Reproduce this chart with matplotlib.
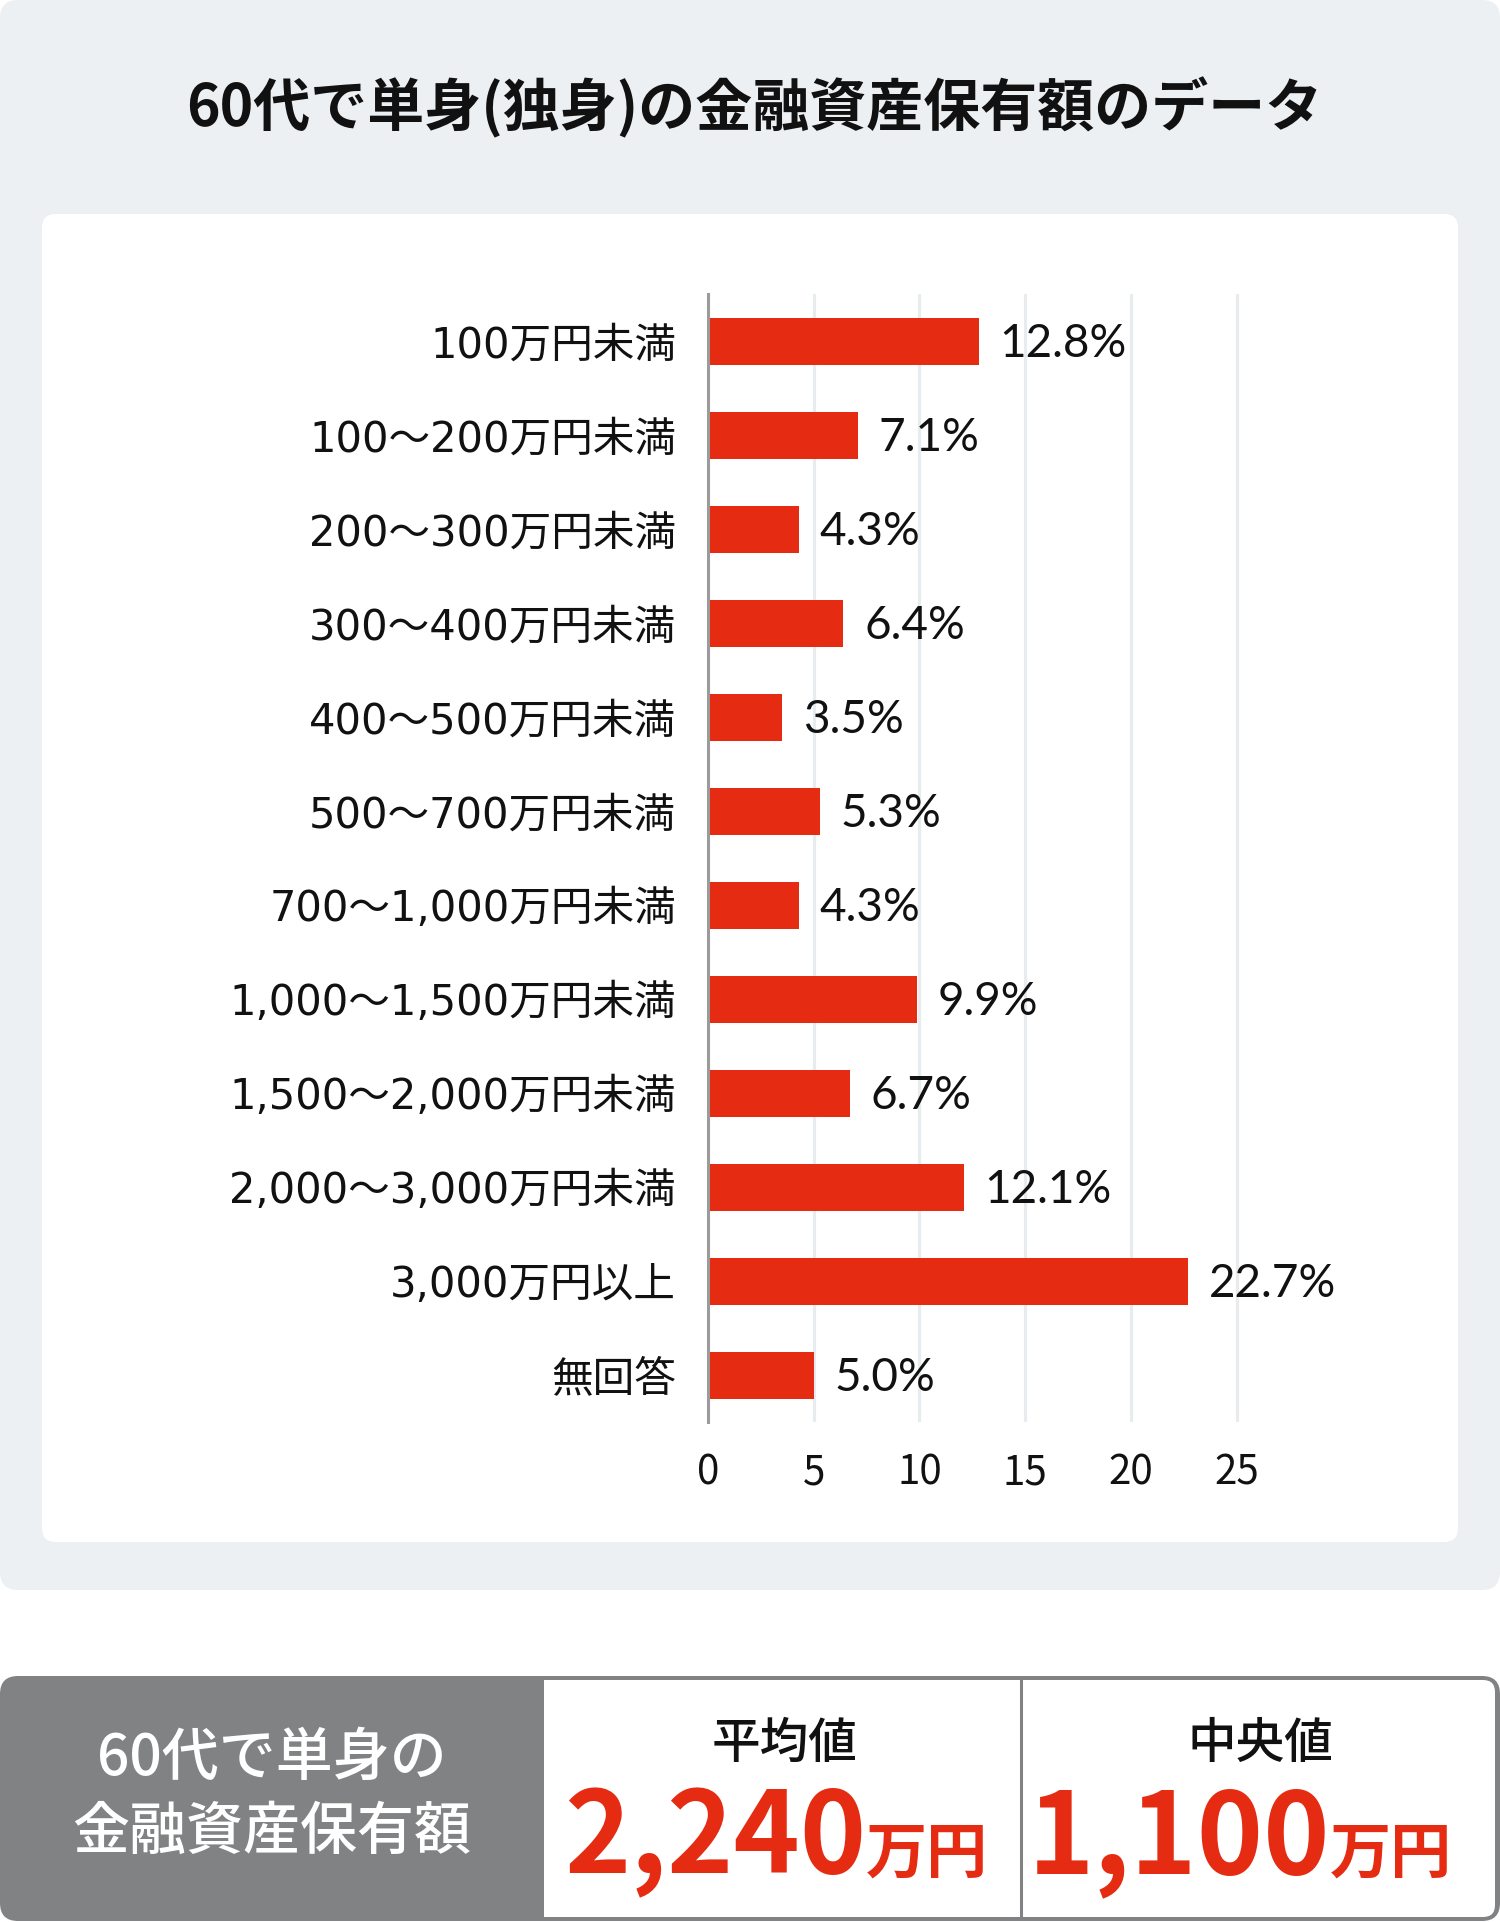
import matplotlib
matplotlib.use("Agg")
import matplotlib.pyplot as plt
from matplotlib.patches import FancyBboxPatch, Rectangle

plt.rcParams['font.family'] = ['Noto Sans CJK JP', 'DejaVu Sans']

# data
title = "60代で単身(独身)の金融資産保有額のデータ"
categories = ["100万円未満", "100～200万円未満", "200～300万円未満", "300～400万円未満",
              "400～500万円未満", "500～700万円未満", "700～1,000万円未満",
              "1,000～1,500万円未満", "1,500～2,000万円未満", "2,000～3,000万円未満",
              "3,000万円以上", "無回答"]
values = [12.8, 7.1, 4.3, 6.4, 3.5, 5.3, 4.3, 9.9, 6.7, 12.1, 22.7, 5.0]
xticks = [0, 5, 10, 15, 20, 25]

summary_head = ["60代で単身の", "金融資産保有額"]
summary_labels = ["平均値", "中央値"]
summary_values = ["2,240", "1,100"]
unit = "万円"

RED = "#e52b12"
BG = "#edf0f3"
GRAY = "#818284"
TXT = "#111111"
LABEL_FONT = ['DejaVu Sans', 'Noto Sans CJK JP']
VALUE_FONT = ['Lato', 'Noto Sans CJK JP']

W, H = 1500, 1922
fig = plt.figure(figsize=(W / 100, H / 100), dpi=100)
fig.patch.set_facecolor("white")

# background layer in pixel coords
bg = fig.add_axes([0, 0, 1, 1])
bg.set_xlim(0, W)
bg.set_ylim(H, 0)
bg.axis("off")

bg.add_patch(FancyBboxPatch((0, 0), W, 1590, boxstyle="round,pad=0,rounding_size=18",
                            fc=BG, ec="none"))
bg.add_patch(FancyBboxPatch((42, 214), 1416, 1328, boxstyle="round,pad=0,rounding_size=14",
                            fc="white", ec="none"))
bg.text(754, 108, title, ha="center", va="center", fontsize=41, fontweight="bold", color=TXT)

# summary box at the bottom
bg.add_patch(FancyBboxPatch((0, 1676), W, 245, boxstyle="round,pad=0,rounding_size=18",
                            fc=GRAY, ec="none"))
bg.add_patch(FancyBboxPatch((544, 1680), 951, 237, boxstyle="round,pad=0,rounding_size=12",
                            fc="white", ec="none"))
bg.add_patch(Rectangle((544, 1680), 500, 237, fc="white", ec="none"))
bg.plot([1021, 1021], [1680, 1917], color=GRAY, lw=2.2)

bg.text(272, 1759, summary_head[0], ha="center", va="center", fontsize=41,
        fontweight="medium", color="white")
bg.text(272, 1833, summary_head[1], ha="center", va="center", fontsize=41,
        fontweight="medium", color="white")

cell_cx = [785, 1260]
split_x = [866, 1330]
for k in range(2):
    bg.text(cell_cx[k], 1744, summary_labels[k], ha="center", va="center",
            fontsize=35, fontweight="medium", color=TXT)
    bg.text(split_x[k], 1873, summary_values[k], ha="right", va="baseline",
            fontsize=81, fontweight="bold", color=RED)
    bg.text(split_x[k], 1873, unit, ha="left", va="baseline",
            fontsize=44, fontweight="bold", color=RED)

# bar chart
px_per_unit = 21.14
left_px, right_px = 708, 1300
top_px, bot_px = 294, 1422
ax = fig.add_axes([left_px / W, 1 - bot_px / H, (right_px - left_px) / W, (bot_px - top_px) / H])
ax.set_facecolor("none")
ax.set_xlim(0, (right_px - left_px) / px_per_unit)
ax.set_ylim(len(categories) - 0.5, -0.5)

ax.barh(range(len(values)), values, height=0.5, color=RED, zorder=3)
for i, v in enumerate(values):
    ax.annotate(f"{v}%", xy=(v, i), xytext=(15, -2), textcoords="offset points",
                ha="left", va="center", fontsize=33, color=TXT, family=VALUE_FONT)

ax.set_xticks(xticks)
ax.set_xticklabels([str(t) for t in xticks], fontsize=29, color=TXT)
ax.set_yticks(range(len(categories)))
ax.set_yticklabels(categories, fontsize=30, color=TXT, family=LABEL_FONT)
ax.tick_params(axis="x", length=0, pad=22)
ax.tick_params(axis="y", length=0, pad=23)

ax.grid(axis="x", color="#e8ecef", lw=2.3, zorder=0)
for s in ["top", "right", "bottom"]:
    ax.spines[s].set_visible(False)
ax.spines["left"].set_color("#9b9b9b")
ax.spines["left"].set_linewidth(2.2)
ax.spines["left"].set_zorder(4)

fig.savefig("out.png", dpi=100)
